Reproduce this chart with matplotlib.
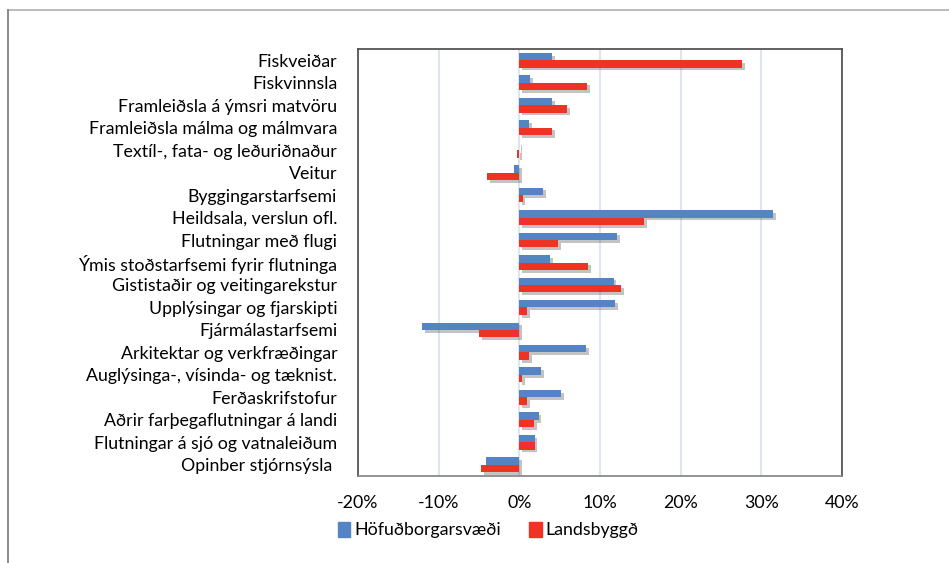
import matplotlib
matplotlib.use("Agg")
import matplotlib.pyplot as plt
import matplotlib.patheffects as pe
from matplotlib.lines import Line2D
from matplotlib.patches import Patch
import numpy as np

categories = [
    "Fiskveiðar",
    "Fiskvinnsla",
    "Framleiðsla á ýmsri matvöru",
    "Framleiðsla málma og málmvara",
    "Textíl-, fata- og leðuriðnaður",
    "Veitur",
    "Byggingarstarfsemi",
    "Heildsala, verslun ofl.",
    "Flutningar með flugi",
    "Ýmis stoðstarfsemi fyrir flutninga",
    "Gististaðir og veitingarekstur",
    "Upplýsingar og fjarskipti",
    "Fjármálastarfsemi",
    "Arkitektar og verkfræðingar",
    "Auglýsinga-, vísinda- og tæknist.",
    "Ferðaskrifstofur",
    "Aðrir farþegaflutningar á landi",
    "Flutningar á sjó og vatnaleiðum",
    "Opinber stjórnsýsla ",
]
hofudborg = [4.1, 1.3, 4.1, 1.2, -0.1, -0.6, 2.9, 31.5, 12.1, 3.8, 11.7, 11.9,
             -12.1, 8.3, 2.7, 5.2, 2.4, 1.9, -4.1]
landsbyggd = [27.6, 8.4, 5.95, 4.05, -0.25, -4.0, 0.4, 15.5, 4.8, 8.5, 12.6, 0.95,
              -5.0, 1.2, 0.3, 0.95, 1.8, 1.9, -4.7]
xticks = [-20, -10, 0, 10, 20, 30, 40]
xticklabels = ["-20%", "-10%", "0%", "10%", "20%", "30%", "40%"]
series_names = ["Höfuðborgarsvæði", "Landsbyggð"]

plt.rcParams['font.family'] = ["Lato", "DejaVu Sans"]

blue = "#5484c4"
red = "#ee3224"
fs = 12.8

fig = plt.figure(figsize=(9.49, 5.63), dpi=100)
ax = fig.add_axes([358/949, 1-476/563, (842-358)/949, (476-49)/563])

y = np.arange(len(categories))
h = 0.33
shadow = [pe.SimplePatchShadow(offset=(2, -2), shadow_rgbFace="#555555", alpha=0.35), pe.Normal()]
b1 = ax.barh(y - h/2, hofudborg, height=h, color=blue, zorder=3)
b2 = ax.barh(y + h/2, landsbyggd, height=h, color=red, zorder=3)
for p in list(b1) + list(b2):
    p.set_path_effects(shadow)

ax.set_xlim(-20, 40)
ax.set_ylim(len(categories) - 0.5, -0.5)
ax.set_xticks(xticks)
ax.set_xticklabels(xticklabels, fontsize=fs)
ax.set_yticks(y)
ax.set_yticklabels(categories, fontsize=fs)
ax.tick_params(axis='both', length=0)
ax.tick_params(axis='x', pad=14)
ax.tick_params(axis='y', pad=15)
ax.grid(axis='x', color="#dfe5ec", linewidth=1.5, zorder=0)
ax.set_axisbelow(True)
for s in ["left", "top", "right"]:
    ax.spines[s].set_color("#555555")
    ax.spines[s].set_linewidth(1.3)
ax.spines["bottom"].set_color("#8a8a8a")
ax.spines["bottom"].set_linewidth(1.3)

handles = [Patch(color=blue), Patch(color=red)]
fig.legend(handles, series_names, loc="center", bbox_to_anchor=(488/949, 1-530/563),
           ncol=2, frameon=False, fontsize=fs, handlelength=0.7, handleheight=0.9,
           handletextpad=0.2, columnspacing=1.6)

fig.add_artist(Line2D([8/949, 1], [1-10/563, 1-10/563], color="#b0b0b0", linewidth=1.2))
fig.add_artist(Line2D([8/949, 8/949], [0, 1-10/563], color="#777777", linewidth=1.2))

fig.savefig("out.png", dpi=100)
